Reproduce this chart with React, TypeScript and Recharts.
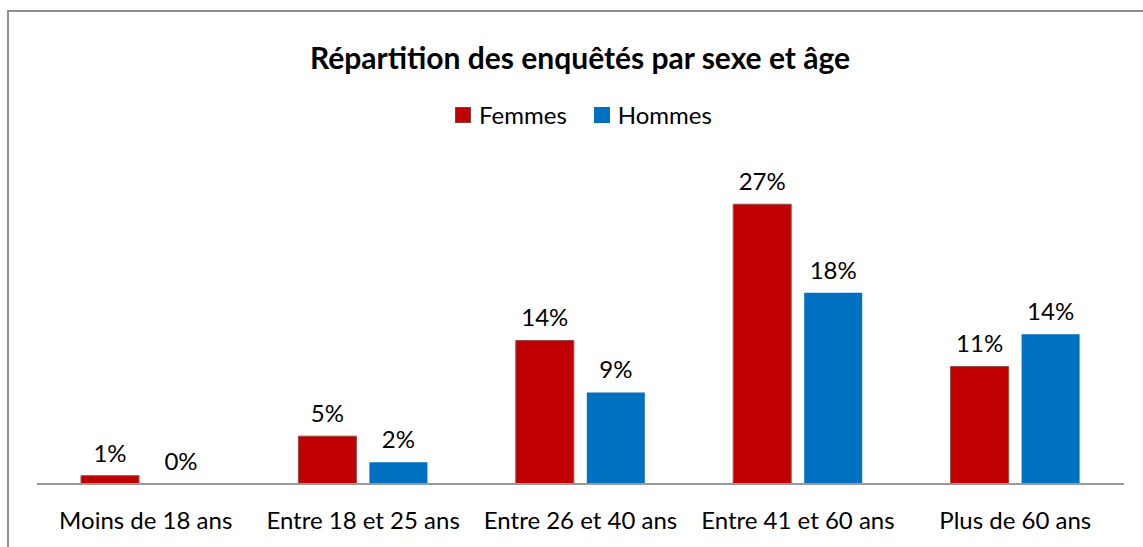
import React from "react";
import { BarChart, Bar, XAxis, YAxis, LabelList } from "recharts";

const categories = ["Moins de 18 ans", "Entre 18 et 25 ans", "Entre 26 et 40 ans", "Entre 41 et 60 ans", "Plus de 60 ans"];
const femmes = [0.8, 4.6, 13.8, 26.9, 11.3];
const hommes = [0.04, 2.1, 8.8, 18.4, 14.4];

const data = categories.map((c, i) => ({ name: c, Femmes: femmes[i], Hommes: hommes[i] }));

const FONT = "Lato, 'Open Sans', sans-serif";
const RED = "#C00000";
const BLUE = "#0070C0";

const fmt = (v: any) => `${Math.round(Number(v))}%`;

export default function App() {
  return (
    <div style={{ position: "fixed", left: 0, top: 0, width: 1143, height: 547, overflow: "hidden", background: "#fff", fontFamily: FONT }}>
      <div style={{ position: "absolute", left: 7, top: 10, width: 1300, height: 700, border: "2px solid #8f8f8f", boxSizing: "border-box" }} />
      <div style={{ position: "absolute", left: 0, width: 1160, top: 38, textAlign: "center", fontSize: 30, fontWeight: 700, color: "#000", lineHeight: "38px" }}>
        Répartition des enquêtés par sexe et âge
      </div>
      <div style={{ position: "absolute", left: 0, width: 1167, top: 100, display: "flex", justifyContent: "center", alignItems: "center", fontSize: 24, color: "#000", lineHeight: "30px" }}>
        <span style={{ display: "inline-block", width: 16, height: 16, background: RED, border: "1px solid #9a3b3b", boxSizing: "border-box", marginRight: 8 }} />
        <span style={{ marginRight: 27 }}>Femmes</span>
        <span style={{ display: "inline-block", width: 16, height: 16, background: BLUE, marginRight: 8 }} />
        <span>Hommes</span>
      </div>
      <div style={{ position: "absolute", left: 0, top: 0 }}>
        <BarChart width={1143} height={547} data={data} margin={{ top: 172, right: 19, left: 37, bottom: 23 }} barSize={58} barGap={13}>
          <XAxis
            dataKey="name"
            height={40}
            axisLine={{ stroke: "#999999", strokeWidth: 2 }}
            tickLine={false}
            tickSize={0}
            tickMargin={28}
            tick={{ fill: "#000", fontSize: 24, fontFamily: FONT }}
            interval={0}
          />
          <YAxis hide domain={[0, 30]} width={0} />
          <Bar dataKey="Femmes" fill={RED} stroke="#a04848" strokeWidth={1} isAnimationActive={false}>
            <LabelList dataKey="Femmes" position="top" offset={14} formatter={fmt} style={{ fill: "#000", fontSize: 24, fontFamily: FONT }} />
          </Bar>
          <Bar dataKey="Hommes" fill={BLUE} isAnimationActive={false}>
            <LabelList dataKey="Hommes" position="top" offset={14} formatter={fmt} style={{ fill: "#000", fontSize: 24, fontFamily: FONT }} />
          </Bar>
        </BarChart>
      </div>
    </div>
  );
}
